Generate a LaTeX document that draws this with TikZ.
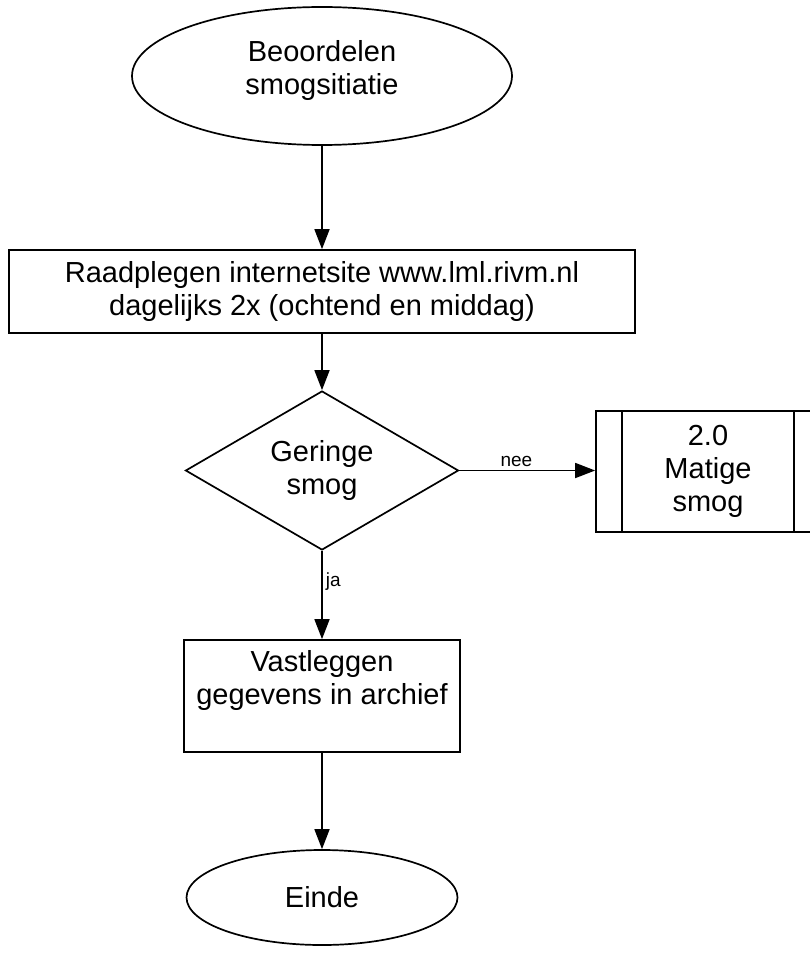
\documentclass[tikz,border=0pt]{standalone}
\usepackage{fontspec}
\setmainfont{Liberation Sans}
\usetikzlibrary{shapes.geometric,arrows.meta}
\begin{document}
\begin{tikzpicture}[x=1pt,y=-1pt,
  line width=1.7pt,
  every node/.style={font=\fontsize{29}{33}\selectfont, align=center, inner sep=0pt},
  terminal/.style={draw, ellipse},
  process/.style={draw, rectangle},
  decision/.style={draw, diamond, aspect=1.72},
  flow/.style={-{Triangle[length=20pt,width=15pt]}},
  edgelabel/.style={font=\fontsize{19}{22}\selectfont}
]
\useasboundingbox (0,0) rectangle (810,955);
\clip (0,0) rectangle (810,955);

\node[terminal, minimum width=380pt, minimum height=138pt] (start) at (322,76)
  {Beoordelen\\smogsitiatie\\[-16pt]};
\node[process, minimum width=626pt, minimum height=83pt] (lookup) at (322,291.5)
  {Raadplegen internetsite www.lml.rivm.nl\\dagelijks 2x (ochtend en middag)};
\node[decision, minimum width=273pt, minimum height=159pt] (check) at (322,470.5)
  {Geringe\\smog};
\node[process, minimum width=224pt, minimum height=121pt] (moderate) at (708,471.5)
  {2.0\\Matige\\smog};
\draw ([xshift=27pt]moderate.north west) -- ([xshift=27pt]moderate.south west);
\draw ([xshift=-27pt]moderate.north east) -- ([xshift=-27pt]moderate.south east);
\node[process, minimum width=276pt, minimum height=112pt] (archive) at (322,696)
  {Vastleggen\\gegevens in archief\\[4pt]};
\node[terminal, minimum width=271pt, minimum height=95pt] (end) at (322,897.5)
  {Einde};

\draw[flow] (start) -- (lookup);
\draw[flow] (lookup) -- (check);
\draw[flow] (check.east) -- node[edgelabel, above=3pt, pos=0.42] {nee} (check.east -| moderate.west);
\draw[flow] (check.south) -- node[edgelabel, right=3pt, pos=0.35] {ja} (archive.north);
\draw[flow] (archive) -- (end);
\end{tikzpicture}
\end{document}
